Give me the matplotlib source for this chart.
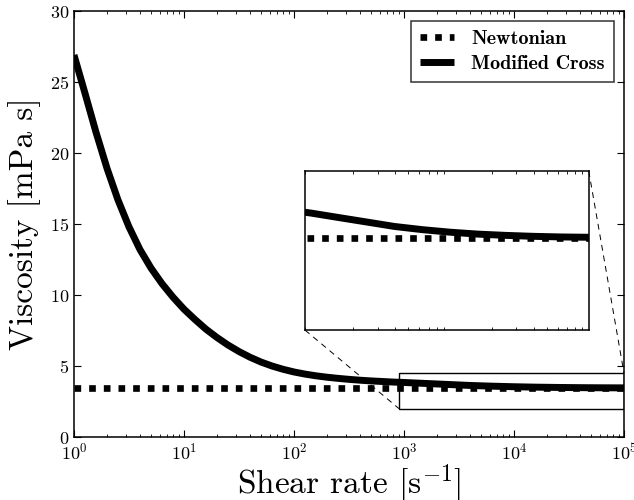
import matplotlib
matplotlib.use("Agg")
import matplotlib.pyplot as plt
from mpl_toolkits.axes_grid1.inset_locator import mark_inset

plt.rcParams["font.family"] = "cmr10"
plt.rcParams["mathtext.fontset"] = "cm"
plt.rcParams["axes.formatter.use_mathtext"] = True
plt.rcParams["axes.unicode_minus"] = False

# values
shear_rate = [1, 1.26, 1.58, 2, 2.51, 3.16, 3.98, 5.01, 6.31, 7.94,
              10, 12.6, 15.8, 20, 25.1, 31.6, 39.8, 50.1, 63.1, 79.4,
              100, 126, 158, 200, 251, 316, 398, 501, 631, 794,
              1000, 1580, 2510, 3980, 6310, 10000, 15800, 25100, 39800,
              63100, 100000]
visc_cross = [26.9, 24.2, 21.5, 18.9, 16.7, 14.8, 13.2, 11.9, 10.8, 9.85,
              9.0, 8.27, 7.6, 7.0, 6.48, 6.02, 5.62, 5.28, 5.0, 4.77,
              4.58, 4.43, 4.31, 4.21, 4.13, 4.06, 4.0, 3.95, 3.91, 3.87,
              3.84, 3.77, 3.70, 3.63, 3.58, 3.54, 3.51, 3.49, 3.475,
              3.465, 3.46]
newt_x = [1, 100000]
newt_visc = [3.45, 3.45]

xlim_main = (1, 1e5)
ylim_main = (0, 30)
xlim_zoom = (900, 1e5)
ylim_zoom = (2, 4.5)


def draw_lines(a, label=True):
    a.plot(newt_x, newt_visc, color="k", lw=4.8, dashes=(1, 1.2),
           dash_capstyle="butt", label="Newtonian" if label else None)
    a.plot(shear_rate, visc_cross, color="k", lw=5.0, solid_capstyle="butt",
           solid_joinstyle="round", label="Modified Cross" if label else None)


fig = plt.figure(figsize=(6.34, 5.0), dpi=100)
ax = fig.add_axes([0.1167, 0.126, 0.8675, 0.852])
draw_lines(ax)
ax.set_xscale("log")
ax.set_xlim(*xlim_main)
ax.set_ylim(*ylim_main)
ax.set_yticks([0, 5, 10, 15, 20, 25, 30])
ax.tick_params(which="both", direction="in", top=True, right=True, labelsize=13)
ax.tick_params(which="major", length=5)
ax.tick_params(which="minor", length=2.5)
for s in ax.spines.values():
    s.set_linewidth(1.1)
ax.set_xlabel(r"Shear rate [s$^{-1}$]", fontsize=24, labelpad=0)
ax.set_ylabel("Viscosity [mPa s]", fontsize=24, labelpad=6)

leg = ax.legend(loc="upper right", fancybox=False,
                prop={"family": "cmb10", "size": 14.5},
                handlelength=1.7, handletextpad=0.85, borderpad=0.45,
                labelspacing=0.35)
leg.get_frame().set_edgecolor("k")
leg.get_frame().set_linewidth(1.1)

axins = ax.inset_axes([0.42, 0.251, 0.516, 0.373])
draw_lines(axins, label=False)
axins.set_xscale("log")
axins.set_xlim(*xlim_zoom)
axins.set_ylim(*ylim_zoom)
axins.set_xticks([])
axins.set_yticks([])
axins.tick_params(which="both", direction="in", top=True, bottom=True, length=2.5)
for s in axins.spines.values():
    s.set_linewidth(1.1)

pp, p1, p2 = mark_inset(ax, axins, loc1=1, loc2=3, fc="none", ec="k", lw=1.0)
for p in (p1, p2):
    p.set_linestyle((0, (6, 5)))
    p.set_linewidth(0.7)

fig.savefig("out.png", dpi=100)
